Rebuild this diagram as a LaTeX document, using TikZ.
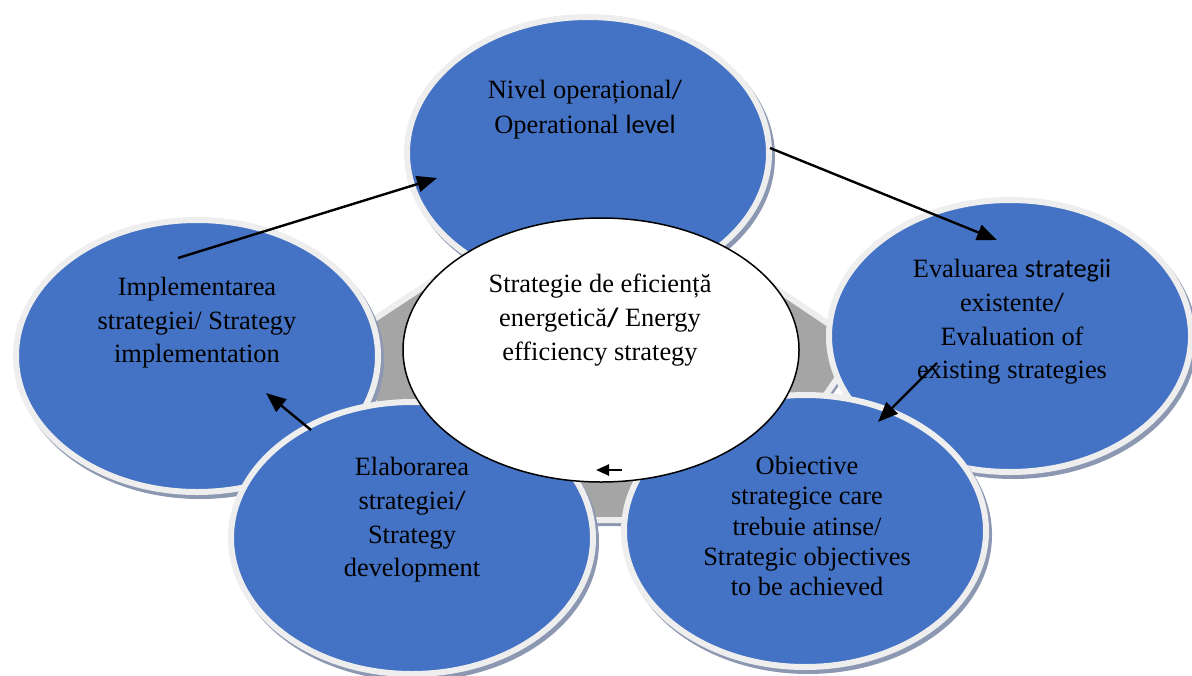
\documentclass[tikz,border=0pt]{standalone}
\usepackage{fontspec}
\setmainfont{Liberation Serif}
\newfontfamily\sansw{Carlito}
\usetikzlibrary{shapes.geometric,arrows.meta}
\definecolor{cblue}{RGB}{68,114,196}
\definecolor{cring}{RGB}{238,238,238}
\definecolor{cshadow}{RGB}{140,152,178}
\definecolor{cgrey}{RGB}{165,165,165}
\begin{document}
\begin{tikzpicture}[x=0.5pt,y=-0.5pt,
  ring/.style={ellipse, fill=cblue, draw=cring, line width=3pt, minimum width=181pt, minimum height=136pt, inner sep=0pt, outer sep=0pt},
  shad/.style={ellipse, fill=cshadow, minimum width=184pt, minimum height=139pt, inner sep=0pt, outer sep=0pt},
  lbl/.style={align=center, font=\fontsize{13.2}{16.8}\selectfont, inner sep=0pt},
  arr/.style={line width=1.2pt, -{Triangle[length=10pt,width=8pt]}},
  sarr/.style={line width=1.2pt, -{Triangle[length=6.5pt,width=5.5pt]}}
]
\useasboundingbox (0,0) rectangle (1192,675);
% background pentagon
\fill[cshadow] (603,175) -- (863,350) -- (743,526) -- (458,526) -- (338,350) -- cycle;
\draw[fill=cgrey, draw=cring, line width=3pt, line join=round] (600,170) -- (860,345) -- (740,520) -- (455,520) -- (335,345) -- cycle;
% outer ellipses
\node[shad] (topS) at (591,157) {};
\node[ring] (top) at (588,153) {};
\node[shad] (rightS) at (1013,340) {};
\node[ring] (right) at (1010,336) {};
\node[shad] (leftS) at (200,360) {};
\node[ring] (left) at (197,356) {};
\node[shad] (brS) at (808,535) {};
\node[ring] (br) at (805,531) {};
\node[shad] (blS) at (415,542) {};
\node[ring] (bl) at (412,538) {};
% centre
\node[ellipse, fill=white, draw=black, line width=0.75pt, minimum width=198pt, minimum height=132pt, inner sep=0pt] (ctr) at (601,350) {};
% labels
\node[lbl, font=\fontsize{13.2}{17.5}\selectfont] (ttop) at (585,110) {Nivel operațional{\sansw /}\\Operational {\sansw level}};
\node[lbl] (tright) at (1012,322) {Evaluarea {\sansw strategii}\\existente{\sansw /}\\Evaluation of\\existing strategies};
\node[lbl] (tleft) at (197,323) {Implementarea\\strategiei/ Strategy\\implementation};
\node[lbl] (tbl) at (412,520) {Elaborarea\\strategiei{\sansw /}\\Strategy\\development};
\node[lbl, font=\fontsize{13.2}{15.2}\selectfont] (tbr) at (807,526) {Obiective\\strategice care\\trebuie atinse/\\Strategic objectives\\to be achieved};
\node[lbl] (tctr) at (600,320) {Strategie de eficiență\\energetică{\sansw\bfseries /} Energy\\efficiency strategy};
% arrows
\coordinate (a1s) at (178,258); \coordinate (a1e) at (437,178);
\coordinate (a2s) at (770,148); \coordinate (a2e) at (997,240);
\coordinate (a3s) at (937,363); \coordinate (a3e) at (878,422);
\coordinate (a4s) at (622,470); \coordinate (a4e) at (596,470);
\coordinate (a5s) at (311,430); \coordinate (a5e) at (266,393);
\draw[arr] (a1s) -- (a1e);
\draw[arr] (a2s) -- (a2e);
\draw[arr] (a3s) -- (a3e);
\draw[sarr] (a4s) -- (a4e);
\draw[arr] (a5s) -- (a5e);
\end{tikzpicture}
\end{document}
